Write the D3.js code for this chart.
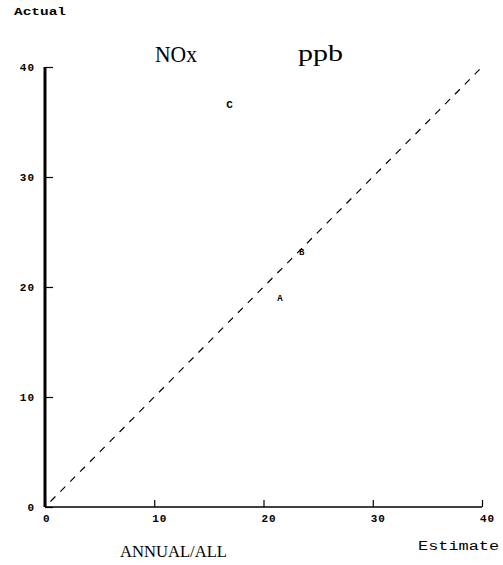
<!DOCTYPE html>
<html><head><meta charset="utf-8">
<script src="https://cdn.jsdelivr.net/npm/d3@7/dist/d3.min.js"></script>
<style>body{margin:0;background:#fff}svg{display:block}</style>
</head><body>
<script>
const xTicks = [0, 10, 20, 30, 40];
const yTicks = [0, 10, 20, 30, 40];
const pointLabels = ["A", "B", "C"];
const estimateValues = [21.5, 23.5, 16.9];
const actualValues = [19.1, 23.3, 36.6];
const diagonal = [[0.5, 0.5], [40, 40]];

const W = 503, H = 565;
const svg = d3.select("body").append("svg").attr("width", W).attr("height", H);
const x = d3.scaleLinear().domain([0, 40]).range([45, 482]);
const y = d3.scaleLinear().domain([0, 40]).range([507, 67]);
const mono = "'Liberation Mono', 'DejaVu Sans Mono', monospace";
const serif = "'Liberation Serif', 'DejaVu Serif', serif";

// Y axis
const yAxis = d3.axisRight(y).tickValues(yTicks).tickSize(8).tickFormat("");
const gy = svg.append("g").attr("transform", `translate(${x(0)},0)`).call(yAxis);
gy.select(".domain").remove();
gy.selectAll(".tick line").attr("stroke", "#000").attr("stroke-width", 1.2);
svg.append("line").attr("x1", x(0)).attr("x2", x(0)).attr("y1", y(40)).attr("y2", y(0))
  .attr("stroke", "#000").attr("stroke-width", 3);
svg.selectAll(".ylab").data(yTicks).join("text")
  .attr("x", 35).attr("y", d => y(d) + 4).attr("text-anchor", "end")
  .attr("font-family", mono).attr("font-weight", "bold").attr("font-size", 11)
  .attr("letter-spacing", 1).text(d => d);

// X axis
const xAxis = d3.axisTop(x).tickValues(xTicks).tickSize(7).tickFormat("");
const gx = svg.append("g").attr("transform", `translate(0,${y(0)})`).call(xAxis);
gx.select(".domain").remove();
gx.selectAll(".tick line").attr("stroke", "#000").attr("stroke-width", 1.2);
svg.append("line").attr("x1", x(0)).attr("x2", x(40)).attr("y1", y(0)).attr("y2", y(0))
  .attr("stroke", "#000").attr("stroke-width", 1.3);
svg.selectAll(".xlab").data(xTicks).join("text")
  .attr("x", d => x(d) - 2).attr("y", y(0) + 15).attr("text-anchor", "start")
  .attr("font-family", mono).attr("font-weight", "bold").attr("font-size", 11)
  .attr("letter-spacing", 1).text(d => d);

// Diagonal
svg.append("path").datum(diagonal)
  .attr("d", d3.line().x(d => x(d[0])).y(d => y(d[1])))
  .attr("stroke", "#000").attr("stroke-width", 1.2).attr("stroke-dasharray", "7,7").attr("fill", "none");

// Points
svg.selectAll(".pt").data(pointLabels).join("text")
  .attr("x", (d, i) => x(estimateValues[i])).attr("y", (d, i) => y(actualValues[i]) + 4)
  .attr("text-anchor", "middle").attr("font-family", mono).attr("font-weight", "bold")
  .attr("font-size", (d) => d === "C" ? 11 : 9).text(d => d);

// Titles
svg.append("text").attr("x", 14).attr("y", 15).attr("font-family", mono).attr("font-weight", "bold")
  .attr("font-size", 10).attr("textLength", 52).attr("lengthAdjust", "spacingAndGlyphs").text("Actual");
svg.append("text").attr("x", 155).attr("y", 62).attr("font-family", serif).attr("font-size", 24)
  .attr("textLength", 42).attr("lengthAdjust", "spacingAndGlyphs").text("NOx");
svg.append("text").attr("x", 298).attr("y", 61).attr("font-family", serif).attr("font-size", 23)
  .attr("textLength", 45).attr("lengthAdjust", "spacingAndGlyphs").text("ppb");
svg.append("text").attr("x", 418).attr("y", 550).attr("font-family", mono)
  .attr("font-size", 12).attr("textLength", 81).attr("lengthAdjust", "spacingAndGlyphs").text("Estimate");
svg.append("text").attr("x", 120).attr("y", 557).attr("font-family", serif).attr("font-size", 16)
  .attr("textLength", 107).attr("lengthAdjust", "spacingAndGlyphs").text("ANNUAL/ALL");
</script>
</body></html>
